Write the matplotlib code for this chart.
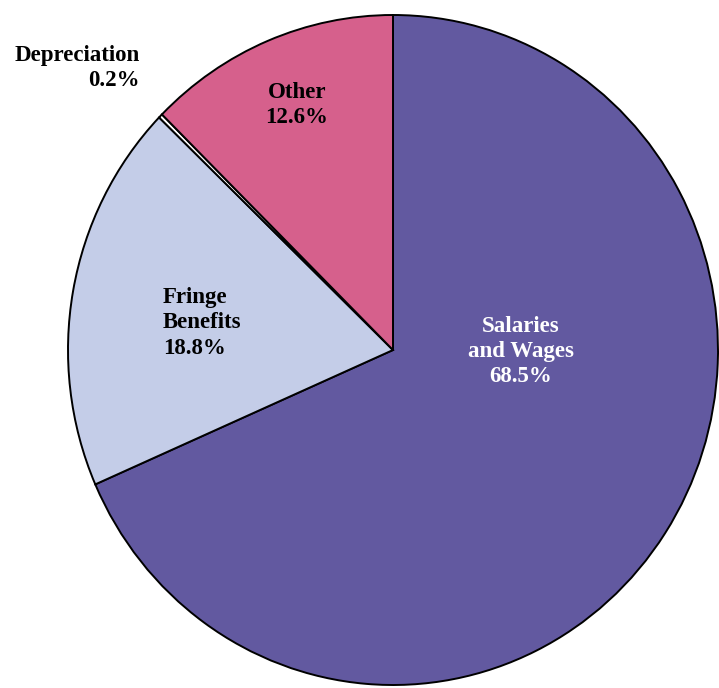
import matplotlib.pyplot as plt

labels = ['Salaries\nand Wages', 'Fringe\nBenefits', 'Depreciation', 'Other']
shares = [68.5, 18.8, 0.2, 12.6]
colors = ['#6259a0', '#c4cde8', '#ffffff', '#d6608c']
text_colors = ['white', 'black', 'black', 'black']

# pie centre / radii in pixels (reference is slightly taller than wide)
cx, cy = 393, 350
rx, ry = 325, 335
W, H = 719, 688

fig = plt.figure(figsize=(W / 100, H / 100), dpi=100)
ax = fig.add_axes([0, 0, 1, 1])
ax.pie(shares, colors=colors, startangle=90, counterclock=False,
       radius=1, center=(0, 0),
       wedgeprops=dict(edgecolor='black', linewidth=1.4))
ax.set_aspect('auto')
ax.set_xlim(-cx / rx, (W - cx) / rx)
ax.set_ylim(-(H - cy) / ry, cy / ry)
ax.axis('off')


def px(x, y):
    return (x - cx) / rx, (cy - y) / ry


font = dict(family=['Liberation Serif', 'DejaVu Serif'], fontweight='bold', fontsize=16.5)
# (x, y, ha, multialignment) for each label, in pixels
pos = [(521, 351, 'center', 'center'), (163, 323, 'left', 'left'),
       (140, 68, 'right', 'right'), (297, 105, 'center', 'center')]
for i, (lab, sh) in enumerate(zip(labels, shares)):
    x, y = px(pos[i][0], pos[i][1])
    ax.text(x, y, f'{lab}\n{sh}%', color=text_colors[i], ha=pos[i][2], va='center',
            multialignment=pos[i][3], linespacing=1.25, **font)

fig.savefig('out.png', dpi=100)
